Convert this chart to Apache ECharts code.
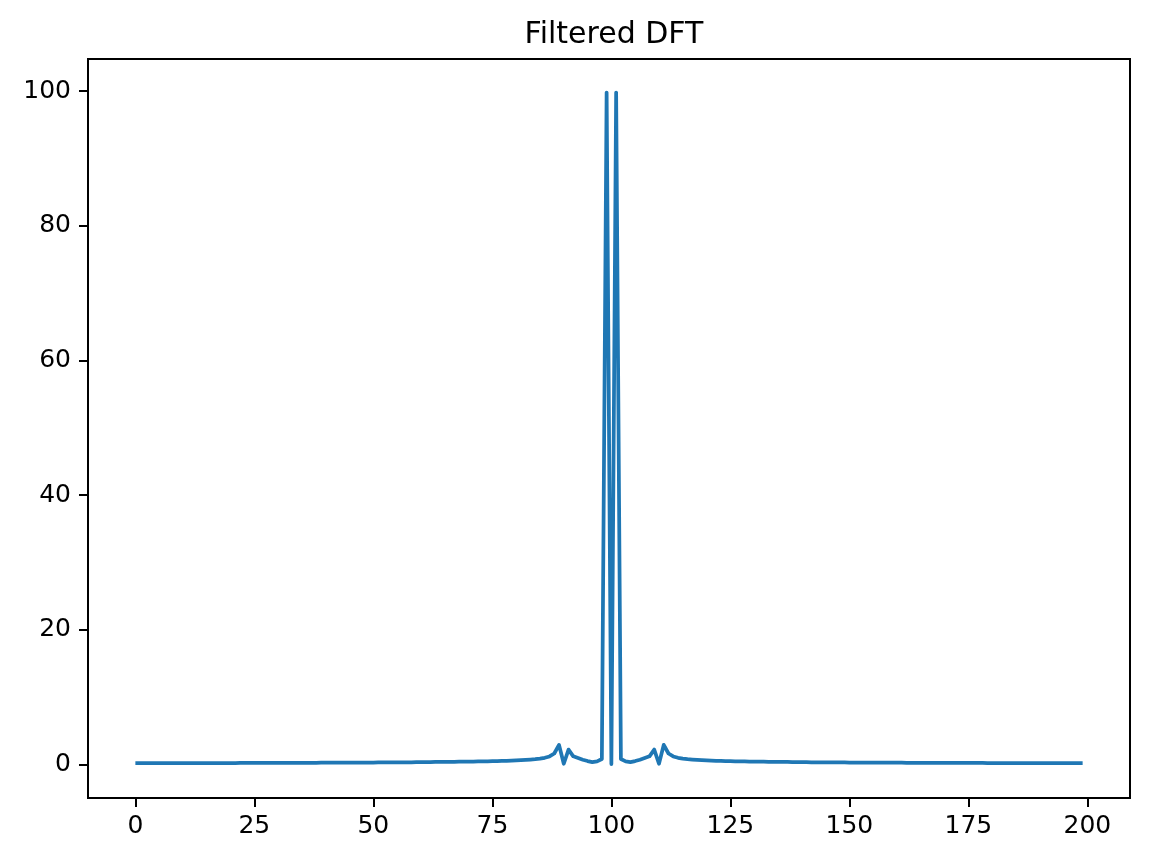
<!DOCTYPE html>
<html>
<head>
<meta charset="utf-8">
<script src="https://cdn.jsdelivr.net/npm/echarts@6/dist/echarts.min.js"></script>
<style>
html,body{margin:0;padding:0;background:#fff;}
#chart{width:1149px;height:862px;}
</style>
</head>
<body>
<div id="chart"></div>
<script>
var titleText = "Filtered DFT";
var xTicks = [0, 25, 50, 75, 100, 125, 150, 175, 200];
var yTicks = [0, 20, 40, 60, 80, 100];
// magnitude values for bins 0..199
var magLeft = [
  0.18,0.18,0.18,0.18,0.18,0.18,0.19,0.19,0.19,0.19,
  0.19,0.19,0.19,0.19,0.19,0.2,0.2,0.2,0.2,0.2,
  0.2,0.2,0.21,0.21,0.21,0.21,0.21,0.21,0.22,0.22,
  0.22,0.22,0.22,0.23,0.23,0.23,0.24,0.24,0.24,0.25,
  0.25,0.25,0.26,0.26,0.26,0.27,0.27,0.27,0.28,0.28,
  0.28,0.29,0.29,0.3,0.3,0.31,0.31,0.32,0.32,0.33,
  0.34,0.34,0.35,0.36,0.36,0.37,0.38,0.39,0.4,0.41,
  0.42,0.43,0.44,0.45,0.46,0.47,0.49,0.51,0.53,0.56,
  0.6,0.63,0.67,0.72,0.78,0.86,0.98,1.18,1.62
];
var magCenter = [
  2.9,0.1,2.2,1.2,0.95,0.7,0.5,0.35,0.45,0.8,
  99.8,0.05,99.8,
  0.8,0.45,0.35,0.5,0.7,0.95,1.2,2.2,0.1,2.9
];
var magRight = [
  1.62,1.18,0.98,0.86,0.78,0.72,0.67,0.63,0.6,
  0.56,0.53,0.51,0.49,0.47,0.46,0.45,0.44,0.43,0.42,
  0.41,0.4,0.39,0.38,0.37,0.36,0.36,0.35,0.34,0.34,
  0.33,0.32,0.32,0.31,0.31,0.3,0.3,0.29,0.29,0.28,
  0.28,0.28,0.27,0.27,0.27,0.26,0.26,0.26,0.25,0.25,
  0.25,0.24,0.24,0.24,0.23,0.23,0.23,0.22,0.22,0.22,
  0.22,0.22,0.21,0.21,0.21,0.21,0.21,0.21,0.2,0.2,
  0.2,0.2,0.2,0.2,0.19,0.19,0.19,0.19,0.19,0.19,
  0.19,0.19,0.19,0.19,0.18,0.18,0.18,0.18,0.18
];
var magnitude = magLeft.concat(magCenter, magRight);
var seriesData = magnitude.map(function (v, i) { return [i, v]; });

var n = magnitude.length;
var xMin = -0.05 * (n - 1), xMax = (n - 1) * 1.05;
var yMaxData = Math.max.apply(null, magnitude), yMinData = Math.min(0, Math.min.apply(null, magnitude));
var yMin = yMinData - 0.05 * (yMaxData - yMinData), yMax = yMaxData + 0.05 * (yMaxData - yMinData);

var font = "DejaVu Sans";
var chart = echarts.init(document.getElementById('chart'), null, {renderer: 'canvas'});
chart.setOption({
  animation: false,
  backgroundColor: '#ffffff',
  title: {
    text: titleText,
    left: 609, top: 15, textAlign: 'center',
    textStyle: {fontFamily: font, fontSize: 30, fontWeight: 'normal', color: '#000'}
  },
  grid: {left: 88, right: 19, top: 59, bottom: 64, show: true, borderColor: '#000', borderWidth: 2, backgroundColor: 'transparent'},
  xAxis: {
    type: 'value', min: xMin, max: xMax,
    splitLine: {show: false},
    axisLine: {show: true, onZero: false, lineStyle: {color: '#000', width: 2}},
    axisTick: {show: true, length: 9, inside: false, customValues: xTicks, lineStyle: {color: '#000', width: 2}},
    axisLabel: {show: true, customValues: xTicks, margin: 16, color: '#000', fontFamily: font, fontSize: 25, showMinLabel: true, showMaxLabel: true}
  },
  yAxis: {
    type: 'value', min: yMin, max: yMax,
    splitLine: {show: false},
    axisLine: {show: true, onZero: false, lineStyle: {color: '#000', width: 2}},
    axisTick: {show: true, length: 9, inside: false, customValues: yTicks, lineStyle: {color: '#000', width: 2}},
    axisLabel: {show: true, customValues: yTicks, margin: 17, color: '#000', fontFamily: font, fontSize: 25}
  },
  series: [{
    type: 'line', data: seriesData, showSymbol: false, symbol: 'none',
    lineStyle: {color: '#1f77b4', width: 3.75, join: 'round', cap: 'butt'},
    clip: true
  }]
});
</script>
</body>
</html>
